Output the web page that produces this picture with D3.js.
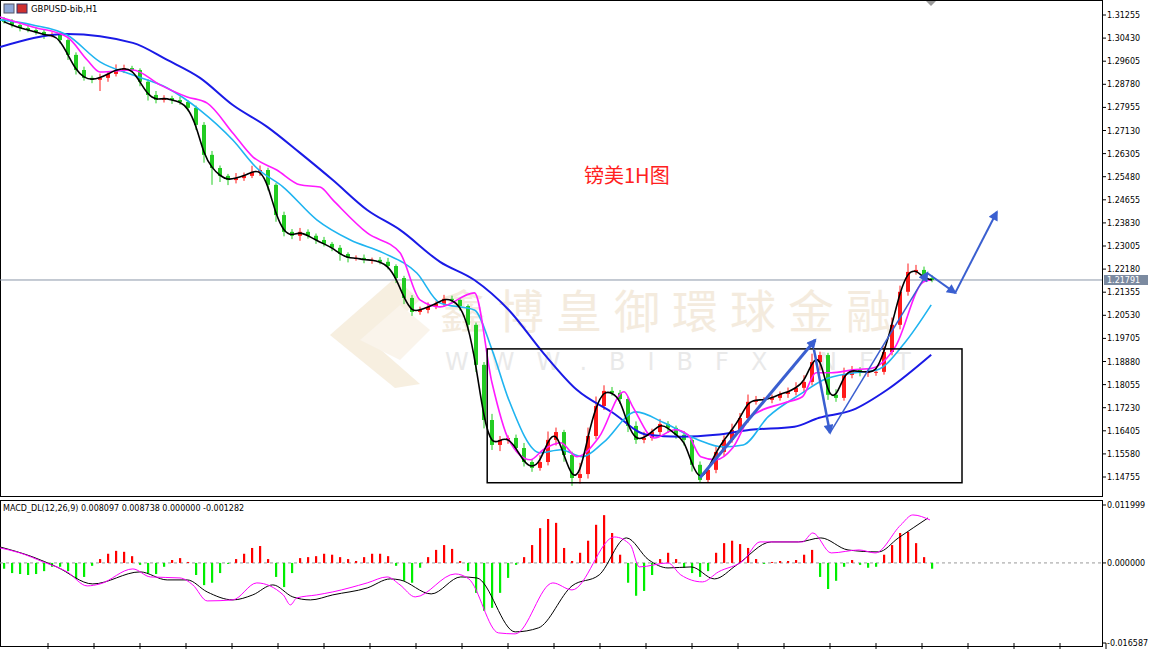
<!DOCTYPE html>
<html><head><meta charset="utf-8">
<script src="https://cdn.jsdelivr.net/npm/d3@7"></script>
<style>body{margin:0;background:#fff}svg{display:block}</style>
</head><body><svg id="c" width="1170" height="649"></svg>
<script>
// ---------- DATA ----------
const symbol = "GBPUSD-bib,H1";
const title = "镑美1H图";
const macdLabel = "MACD_DL(12,26,9) 0.008097 0.008738 0.000000 -0.001282";
const priceTicks = [1.31255,1.30430,1.29605,1.28780,1.27955,1.27130,1.26305,1.25480,1.24655,1.23830,1.23005,1.22180,1.21355,1.20530,1.19705,1.18880,1.18055,1.17230,1.16405,1.15580,1.14755];
const macdTicks = [0.011999, 0.000000, -0.016587];
const currentPrice = 1.21791;
const firstOpen = 1.3110;
const closes = [1.3101,1.3090,1.3079,1.3072,1.3065,1.3054,1.3054,1.3036,1.2983,1.2929,
 1.2901,1.2894,1.2901,1.2915,1.2929,1.2936,1.2929,1.2887,1.2840,1.2822,
 1.2829,1.2822,1.2815,1.2794,1.2733,1.2626,1.2579,1.2551,1.2536,1.2543,
 1.2551,1.2565,1.2572,1.2519,1.2411,1.2351,1.2337,1.2351,1.2337,1.2322,
 1.2308,1.2294,1.2272,1.2258,1.2258,1.2251,1.2251,1.2244,1.2229,1.2186,
 1.2115,1.2065,1.2072,1.2083,1.2094,1.2112,1.2108,1.2086,1.2019,1.1876,
 1.1679,1.1590,1.1608,1.1615,1.1579,1.1529,1.1508,1.1529,1.1608,1.1636,
 1.1554,1.1472,1.1486,1.1622,1.1729,1.1783,1.1776,1.1754,1.1658,1.1608,
 1.1615,1.1636,1.1665,1.1651,1.1626,1.1608,1.1519,1.1465,1.1501,1.1565,
 1.1608,1.1644,1.1686,1.1744,1.1751,1.1751,1.1758,1.1772,1.1779,1.1794,
 1.1815,1.1886,1.1911,1.1769,1.1758,1.1840,1.1858,1.1851,1.1851,1.1851,
 1.1922,1.2019,1.2137,1.2208,1.2215,1.2186,1.2179];
const upWickPips = [8,10,6,12,9,7,10,14,6,9, 12,8,15,10,20,12,8,6,9,14, 10,8,12,6,8,10,14,9,7,18, 12,22,16,8,6,12,10,14,9,8, 11,7,10,6,9,12,8,10,14,6, 8,10,12,16,9,14,11,7,6,8, 10,22,14,9,12,18,10,24,30,16, 8,12,40,30,34,20,14,10,8,16, 22,12,18,10,8,14,9,12,10,20, 16,22,18,26,14,10,12,9,16,20, 24,30,12,8,20,26,14,10,12,16, 20,26,22,30,18,12,10];
const dnWickPips = [6,9,12,8,10,14,8,12,18,16, 10,12,40,14,9,11,8,16,20,12, 9,14,10,12,18,28,60,22,18,12, 10,8,14,20,24,16,12,18,10,14, 9,12,24,16,10,12,14,9,12,18, 22,14,10,12,8,10,12,16,20,26, 30,18,22,14,12,16,14,10,12,20, 24,28,20,16,12,14,10,18,22,14, 12,10,16,18,14,20,24,10,8,12, 14,10,12,16,10,8,12,10,14,12, 16,12,30,18,14,10,12,16,18,14, 10,12,16,14,10,12,8];
const maMagenta = [[-0.5,1.3118],[3.6,1.3083],[7.9,1.3047],[10.4,1.2965],[12,1.2922],[16.1,1.2929],[19.5,1.2876],[22.9,1.2833],[25.4,1.2811],[28.6,1.2704],[31.1,1.2619],[34.1,1.2572],[37,1.2519],[39.5,1.2511],[41.1,1.2465],[45.4,1.2347],[49.5,1.2276],[52,1.2108],[54.5,1.2083],[58.8,1.2133],[61,1.1812],[63.1,1.1608],[65.8,1.1537],[67.4,1.1573],[69.6,1.1598],[71.6,1.1548],[74.4,1.1619],[77.5,1.1780],[78.6,1.1726],[81.3,1.1615],[83.9,1.1644],[85.5,1.1626],[87.1,1.1548],[89,1.1537],[91.1,1.1580],[93.3,1.1690],[97.5,1.1740],[99.8,1.1762],[101.5,1.1848],[103.4,1.1848],[106.1,1.1858],[108.6,1.1865],[111.4,1.1940],[114.9,1.2172],[115.8,1.2179]];
const maCyan = [[-0.5,1.3108],[3.6,1.3090],[7.9,1.3054],[12,1.2958],[16.1,1.2911],[20.4,1.2865],[24.5,1.2786],[28.6,1.2679],[31.6,1.2579],[34.9,1.2511],[39.1,1.2394],[43.3,1.2322],[47.4,1.2276],[51.6,1.2204],[54.5,1.2097],[58.8,1.2072],[61,1.1930],[63.1,1.1751],[67,1.1562],[69.6,1.1573],[72.3,1.1548],[74.9,1.1598],[79,1.1708],[82.5,1.1669],[86.8,1.1608],[89.8,1.1583],[92.4,1.1590],[95.5,1.1690],[99.8,1.1776],[102.4,1.1822],[106.1,1.1847],[109.1,1.1858],[112.6,1.1955],[115.9,1.2090]];
const maBlue = [[-0.5,1.3011],[7.9,1.3058],[16.1,1.3026],[20.4,1.2965],[24.5,1.2901],[28.6,1.2804],[32.9,1.2726],[37,1.2633],[41.1,1.2536],[45.4,1.2429],[49.5,1.2358],[54.5,1.2244],[58.8,1.2179],[63.1,1.2072],[67.4,1.1919],[71.6,1.1787],[76.1,1.1705],[80.4,1.1626],[84.6,1.1619],[89,1.1626],[93.3,1.1644],[98.8,1.1655],[101.9,1.1687],[106.1,1.1715],[110.4,1.1787],[115.9,1.1912]];
const histE4 = [-12,-21,-23,-25,-23,-17,-8,-8,-17,-33, -29,-6,8,19,25,23,14,-4,-21,-23, -8,6,10,2,-25,-46,-41,-21,-2,8, 19,31,35,8,-29,-50,-21,10,12,14, 19,17,12,8,4,12,19,19,14,-6, -37,-41,-10,12,27,37,29,4,-17,-62, -99,-93,-62,-31,-4,12,37,72,91,83, 31,4,21,46,79,99,62,17,-41,-68, -58,-25,8,21,8,-10,-21,-29,-17,21, 41,46,39,31,8,-2,2,4,4,6, 17,27,-29,-54,-37,-8,6,-4,-10,-8, 17,37,62,64,41,12,-12];
const macdBlack = [[-0.5,0.00331],[3.6,0.00124],[6.6,-0.00083],[11.1,-0.00435],[17,-0.00186],[20.4,-0.00352],[22.9,-0.00352],[25.4,-0.00601],[28.6,-0.00766],[31.1,-0.00662],[33.6,-0.00455],[36.1,-0.00704],[38.3,-0.00766],[41.1,-0.00662],[45.4,-0.00518],[48.3,-0.00331],[49.5,-0.00352],[53.4,-0.00642],[57.1,-0.0029],[59.1,-0.00311],[63.9,-0.01428],[66.8,-0.01346],[71,-0.00476],[74.4,-0.00248],[77.8,0.00518],[80.6,0.00062],[83,-0.00104],[85.9,-0.00083],[88.8,-0.00331],[91.6,-0.00041],[95.9,0.00435],[99.3,0.00435],[102.1,0.00518],[105.5,0.00269],[109.3,0.00228],[111.8,0.00518],[115.5,0.00932]];
const macdMagenta = [[-0.5,0.00311],[2,0.00207],[4.9,0.00021],[7.9,-0.00186],[10.4,-0.00476],[12,-0.00435],[16.1,-0.00124],[18.3,-0.0029],[22,-0.00311],[23.6,-0.00455],[25.4,-0.00787],[28.6,-0.00766],[31.6,-0.00414],[34.9,-0.00662],[35.8,-0.00869],[36.6,-0.00725],[39.1,-0.00662],[41.1,-0.006],[45.4,-0.00414],[47.9,-0.0029],[49.5,-0.00455],[51.4,-0.00704],[56.4,-0.00228],[58.1,-0.00331],[61.8,-0.01449],[63.9,-0.0147],[68.6,-0.00414],[71,-0.00559],[76.3,0.00538],[78.3,0.00373],[79.4,-0.00083],[83,0],[84.6,-0.00248],[87.3,-0.00393],[89.3,-0.00186],[92.5,0.00062],[94.5,0.00435],[99.8,0.00435],[101.1,0.00621],[103.4,0.00207],[106.9,0.00269],[108.9,0.00207],[112.1,0.00787],[113.6,0.00994],[115.75,0.0089]];
const boxBounds = {i0:60.4, i1:119.75, p0:1.1933, p1:1.1455};
const arrows = [
 {from:[87,1.1473], to:[101.4,1.1965], w:3},
 {from:[101.25,1.1930], to:[103.25,1.1633], w:2.5},
 {from:[103.25,1.1633], to:[115.4,1.2204], w:1.5},
 {from:[115.4,1.2204], to:[118.9,1.2133], w:2},
 {from:[118.9,1.2133], to:[124.1,1.2422], w:2}
];

// ---------- LAYOUT ----------
const svg = d3.select("#c");
const plotR = 1102;
const x = d3.scaleLinear().domain([-0.5,137.25]).range([0,plotR]);
const y = d3.scaleLinear().domain([1.31255,1.14755]).range([15,477]);
const ym = d3.scaleLinear().domain([0.011999,-0.016587]).range([505,643]);
const FONT = "Tahoma, 'DejaVu Sans', sans-serif";

// watermark
const wm = svg.append("g").attr("opacity",0.55);
wm.append("path").attr("d","M330,335 L395,278 L420,300 L372,342 L420,384 L395,388 Z").attr("fill","#f1e2c8");
wm.append("path").attr("d","M360,340 L400,305 L430,330 L400,360 Z").attr("fill","#f6ecdc");
wm.append("text").attr("x",440).attr("y",328).attr("font-size",46).attr("font-family","'Noto Sans CJK TC'")
  .attr("fill","#ecdcc4").attr("letter-spacing",12).text("鑫博皇御環球金融");
wm.append("text").attr("x",445).attr("y",370).attr("font-size",24).attr("font-family",FONT)
  .attr("fill","#d8d8d8").attr("letter-spacing",22).text("WWW.BIBFX.NET");

// frames
svg.append("rect").attr("x",0.5).attr("y",0.5).attr("width",plotR).attr("height",496).attr("fill","none").attr("stroke","#000");
svg.append("rect").attr("x",0.5).attr("y",500.5).attr("width",plotR).attr("height",146).attr("fill","none").attr("stroke","#000");

// price axis
priceTicks.forEach(p=>{
  svg.append("line").attr("x1",plotR).attr("x2",plotR+4).attr("y1",y(p)).attr("y2",y(p)).attr("stroke","#000");
  svg.append("text").attr("x",plotR+5).attr("y",y(p)+3).attr("font-size",8).attr("font-family",FONT).text(p.toFixed(5));
});
// current price line + label
svg.append("line").attr("x1",0).attr("x2",plotR).attr("y1",y(currentPrice)).attr("y2",y(currentPrice)).attr("stroke","#8a96a8");
svg.append("rect").attr("x",plotR+2).attr("y",y(currentPrice)-5).attr("width",44).attr("height",10).attr("fill","#7b8aa0");
svg.append("text").attr("x",plotR+5).attr("y",y(currentPrice)+3).attr("font-size",8).attr("font-family",FONT).attr("fill","#fff").text(currentPrice.toFixed(5));

// macd axis
macdTicks.forEach(v=>{
  svg.append("line").attr("x1",plotR).attr("x2",plotR+4).attr("y1",ym(v)).attr("y2",ym(v)).attr("stroke","#000");
  svg.append("text").attr("x",plotR+5).attr("y",ym(v)+3).attr("font-size",8).attr("font-family",FONT).text(v.toFixed(6));
});
svg.append("line").attr("x1",0).attr("x2",plotR).attr("y1",ym(0)).attr("y2",ym(0)).attr("stroke","#999").attr("stroke-dasharray","3,3");
// bottom ticks
d3.range(0,138,5.75).forEach(i=>{
  svg.append("line").attr("x1",x(i+5.5)).attr("x2",x(i+5.5)).attr("y1",643).attr("y2",649).attr("stroke","#000");
});

// candles
const candles = closes.map((c,i)=>{
  const o = i===0?firstOpen:closes[i-1];
  return {i,o,c,h:Math.max(o,c)+upWickPips[i]*1e-4,l:Math.min(o,c)-dnWickPips[i]*1e-4};
});
const cg = svg.append("g");
candles.forEach(d=>{
  const col = d.c>=d.o?"#ff1a1a":"#22cc22";
  cg.append("line").attr("x1",x(d.i)).attr("x2",x(d.i)).attr("y1",y(d.h)).attr("y2",y(d.l)).attr("stroke",col).attr("stroke-width",1);
  cg.append("rect").attr("x",x(d.i)-2).attr("y",y(Math.max(d.o,d.c))).attr("width",4)
    .attr("height",Math.max(1,Math.abs(y(d.o)-y(d.c)))).attr("fill",col);
});

// moving averages
const ln = d3.line().x(d=>x(d[0])).y(d=>y(d[1])).curve(d3.curveMonotoneX);
svg.append("path").attr("d",ln(maBlue)).attr("fill","none").attr("stroke","#1a1ae6").attr("stroke-width",2);
svg.append("path").attr("d",ln(maCyan)).attr("fill","none").attr("stroke","#1fb4f0").attr("stroke-width",1.6);
svg.append("path").attr("d",ln(maMagenta)).attr("fill","none").attr("stroke","#ff1aff").attr("stroke-width",1.6);
svg.append("path").attr("d",d3.line().x(d=>x(d.i)).y(d=>y(d.c)).curve(d3.curveBasis)(candles))
  .attr("fill","none").attr("stroke","#000").attr("stroke-width",1.6);

// box
svg.append("rect").attr("x",x(boxBounds.i0)).attr("y",y(boxBounds.p0))
  .attr("width",x(boxBounds.i1)-x(boxBounds.i0)).attr("height",y(boxBounds.p1)-y(boxBounds.p0))
  .attr("fill","none").attr("stroke","#000").attr("stroke-width",1.5);

// arrows
svg.append("defs").append("marker").attr("id","ah").attr("viewBox","0 0 10 10").attr("refX",8).attr("refY",5)
  .attr("markerWidth",5).attr("markerHeight",5).attr("markerUnits","userSpaceOnUse").attr("orient","auto")
  .attr("markerWidth",12).attr("markerHeight",10)
  .append("path").attr("d","M0,0 L10,5 L0,10 Z").attr("fill","#3a5fd0");
arrows.forEach(a=>{
  svg.append("line").attr("x1",x(a.from[0])).attr("y1",y(a.from[1])).attr("x2",x(a.to[0])).attr("y2",y(a.to[1]))
    .attr("stroke","#3a5fd0").attr("stroke-width",a.w).attr("marker-end","url(#ah)");
});

// title & header
svg.append("text").attr("x",584).attr("y",183).attr("font-size",20).attr("font-family","'Noto Sans CJK SC'").attr("fill","#ff2020").text(title);
svg.append("rect").attr("x",4).attr("y",4).attr("width",10).attr("height",9).attr("fill","#8ea8d8").attr("stroke","#556");
svg.append("rect").attr("x",17).attr("y",4).attr("width",10).attr("height",9).attr("fill","#d03030").attr("stroke","#336");
svg.append("text").attr("x",31).attr("y",12).attr("font-size",8.5).attr("font-family",FONT).text(symbol);
svg.append("path").attr("d","M926,1 L936,1 L931,6 Z").attr("fill","#999");

// MACD
svg.append("text").attr("x",3).attr("y",511).attr("font-size",8).attr("font-family",FONT).text(macdLabel);
const hg = svg.append("g");
histE4.forEach((v,i)=>{
  const val=v*1e-4;
  hg.append("rect").attr("x",x(i)-1).attr("width",2.2).attr("y",Math.min(ym(val),ym(0))).attr("height",Math.abs(ym(val)-ym(0)))
    .attr("fill",v>=0?"#ff0000":"#00ee00");
});
const lm = d3.line().x(d=>x(d[0])).y(d=>ym(d[1])).curve(d3.curveMonotoneX);
svg.append("path").attr("d",lm(macdBlack)).attr("fill","none").attr("stroke","#000").attr("stroke-width",1);
svg.append("path").attr("d",lm(macdMagenta)).attr("fill","none").attr("stroke","#ff00ff").attr("stroke-width",1);
</script></body></html>
